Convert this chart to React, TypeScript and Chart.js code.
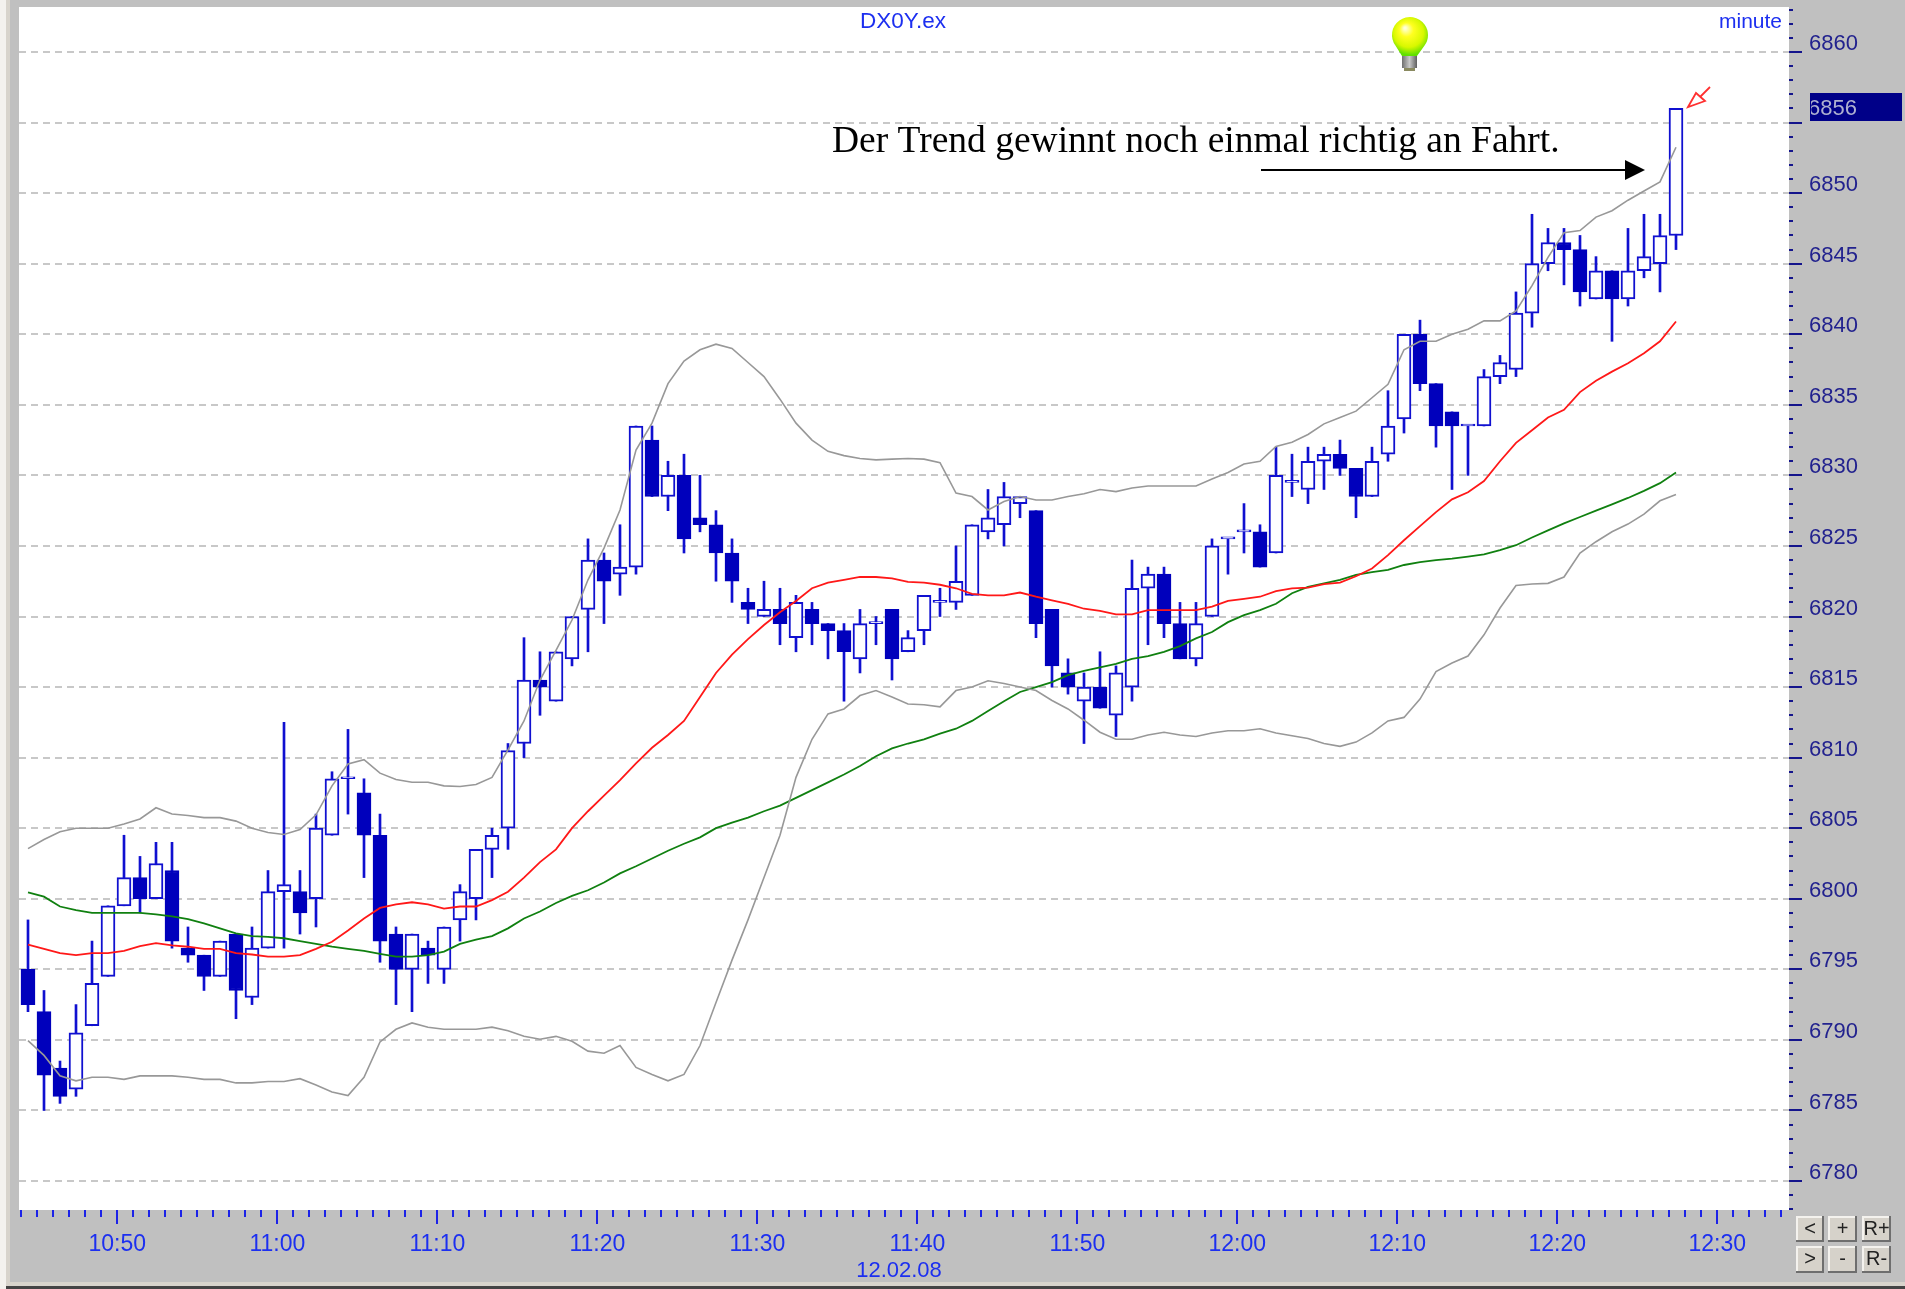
import React, { useEffect, useRef } from "react";
import { Chart, registerables } from "chart.js";

Chart.register(...registerables);

const opens = [6795,6792,6788,6786.5,6791,6794.5,6799.5,6801.5,6800,6802,6796.5,6796,6794.5,6797.5,6793,6796.5,6800.5,6800.5,6800,6804.5,6808.5,6807.5,6804.5,6797.5,6795,6796.5,6795,6798.5,6800,6803.5,6805,6811,6815.5,6814,6817,6820.5,6824,6823,6823.5,6832.5,6828.5,6830,6827,6826.5,6824.5,6821,6820,6820.5,6818.5,6820.5,6819.5,6819,6817,6819.5,6820.5,6817.5,6819,6821,6821,6821.5,6826,6826.5,6828,6827.5,6820.5,6816,6814,6815,6813,6815,6822,6823,6819.5,6817,6820,6825.5,6826,6826,6824.5,6829.5,6829,6831,6831.5,6830.5,6828.5,6831.5,6834,6840,6836.5,6834.5,6833.5,6833.5,6837,6837.5,6841.5,6845,6846.5,6846,6842.5,6844.5,6842.5,6844.5,6845,6847];
const highs = [6798.5,6793.5,6788.5,6792.5,6797,6799.5,6804.5,6803,6804,6804,6798,6796,6797,6797.5,6798,6802,6812.5,6802,6806,6809,6812,6808.5,6806,6798,6797.5,6797,6798,6801,6803.5,6805,6811,6818.5,6817.5,6817.5,6820,6825.5,6824.5,6826.5,6833.5,6833.5,6831,6831.5,6830,6827.5,6825.5,6822,6822.5,6822,6821.5,6821,6819.5,6819.5,6820.5,6820,6820.5,6819,6821.5,6822,6825,6826.5,6829,6829.5,6828.5,6827.5,6820.5,6817,6816,6817.5,6816.5,6824,6823.5,6823.5,6821,6821,6825.5,6825.5,6828,6826.5,6832,6831.5,6832,6832,6832.5,6830.5,6832,6836,6840,6841,6836.5,6834.5,6833.5,6837.5,6838.5,6843,6848.5,6847.5,6847.5,6847,6845.5,6844.5,6847.5,6848.5,6848.5,6856];
const lows = [6792,6785,6785.5,6786,6791,6794.5,6799.5,6799,6800,6796.5,6795.5,6793.5,6794.5,6791.5,6792.5,6796.5,6796.5,6797.5,6798,6804.5,6806,6801.5,6795.5,6792.5,6792,6794,6794,6797,6798.5,6801.5,6803.5,6810,6813,6814,6816.5,6817.5,6819.5,6821.5,6823,6828.5,6827.5,6824.5,6826,6822.5,6821,6819.5,6820,6818,6817.5,6818,6817,6814,6816,6818,6815.5,6817.5,6818,6820,6820.5,6821.5,6825.5,6825,6827,6818.5,6815,6814.5,6811,6813.5,6811.5,6814,6818,6818.5,6817,6816.5,6820,6823,6824.5,6823.5,6824.5,6828.5,6828,6829,6830,6827,6828.5,6831,6833,6836,6832,6829,6830,6833.5,6836.5,6837,6840.5,6844.5,6843.5,6842,6842.5,6839.5,6842,6844,6843,6846];
const closes = [6792.5,6787.5,6786,6790.5,6794,6799.5,6801.5,6800,6802.5,6797,6796,6794.5,6797,6793.5,6796.5,6800.5,6801,6799,6805,6808.5,6808.5,6804.5,6797,6795,6797.5,6796,6798,6800.5,6803.5,6804.5,6810.5,6815.5,6815,6817.5,6820,6824,6822.5,6823.5,6833.5,6828.5,6830,6825.5,6826.5,6824.5,6822.5,6820.5,6820.5,6819.5,6821,6819.5,6819,6817.5,6819.5,6819.5,6817,6818.5,6821.5,6821,6822.5,6826.5,6827,6828.5,6828.5,6819.5,6816.5,6815,6815,6813.5,6816,6822,6823,6819.5,6817,6819.5,6825,6825.5,6826,6823.5,6830,6829.5,6831,6831.5,6830.5,6828.5,6831,6833.5,6840,6836.5,6833.5,6833.5,6833.5,6837,6838,6841.5,6845,6846.5,6846,6843,6844.5,6842.5,6844.5,6845.5,6847,6856];
const upperBand = [6803.55,6804.2,6804.75,6805,6805,6805,6805.3,6805.65,6806.45,6806,6805.9,6805.75,6805.75,6805.5,6805,6804.7,6804.55,6804.9,6805.95,6808,6809.55,6809.85,6808.9,6808.45,6808.25,6808.25,6808,6807.95,6808.1,6808.6,6810.55,6812.6,6815.5,6817.6,6819.75,6822.6,6824.85,6827.55,6831.8,6833.7,6836.5,6838.1,6838.9,6839.3,6839,6838,6837,6835.4,6833.7,6832.5,6831.7,6831.4,6831.2,6831.1,6831.15,6831.2,6831.15,6830.9,6828.75,6828.5,6827.55,6828.15,6828.5,6828.25,6828.25,6828.5,6828.7,6829,6828.85,6829.1,6829.25,6829.25,6829.25,6829.25,6829.75,6830.2,6830.8,6831,6832.05,6832.35,6832.9,6833.65,6834.1,6834.55,6835.5,6836.45,6838.9,6839.5,6839.5,6840,6840.35,6840.95,6840.95,6841.65,6843.45,6845.45,6847.2,6847.35,6848.3,6848.75,6849.5,6850.15,6850.8,6853.25];
const lowerBand = [6789.95,6788.9,6787.45,6787.1,6787.35,6787.35,6787.2,6787.45,6787.45,6787.45,6787.35,6787.2,6787.2,6786.95,6786.95,6787.05,6787.05,6787.25,6786.8,6786.3,6786.05,6787.35,6789.85,6790.75,6791.2,6790.9,6790.75,6790.75,6790.75,6790.9,6790.65,6790.25,6790.05,6790.25,6789.9,6789.2,6789.05,6789.6,6788.05,6787.55,6787.1,6787.55,6789.6,6792.65,6795.65,6798.5,6801.5,6804.5,6808.6,6811.3,6813.1,6813.45,6814.4,6814.75,6814.3,6813.8,6813.75,6813.6,6814.75,6815,6815.45,6815.25,6815,6814.75,6814.05,6813.45,6812.65,6811.8,6811.3,6811.3,6811.6,6811.8,6811.6,6811.5,6811.75,6811.9,6811.9,6812.05,6811.75,6811.55,6811.35,6811,6810.8,6811.1,6811.75,6812.6,6812.85,6814.15,6816.1,6816.7,6817.2,6818.7,6820.6,6822.2,6822.3,6822.35,6822.8,6824.5,6825.3,6826,6826.55,6827.25,6828.2,6828.65];
const redAverage = [6796.75,6796.45,6796.15,6796,6796.15,6796.15,6796.3,6796.65,6796.85,6796.7,6796.6,6796.45,6796.45,6796.15,6796.05,6795.9,6795.9,6796,6796.45,6796.95,6797.75,6798.6,6799.35,6799.6,6799.75,6799.6,6799.3,6799.45,6799.45,6799.9,6800.5,6801.5,6802.6,6803.5,6805,6806.2,6807.3,6808.4,6809.6,6810.7,6811.6,6812.6,6814.3,6816,6817.3,6818.4,6819.4,6820.3,6821.1,6822,6822.4,6822.6,6822.8,6822.8,6822.7,6822.45,6822.4,6822.25,6822,6821.6,6821.5,6821.5,6821.7,6821.4,6821.15,6820.9,6820.55,6820.4,6820.15,6820.15,6820.45,6820.45,6820.45,6820.45,6820.7,6821.1,6821.25,6821.4,6821.8,6822,6822.05,6822.3,6822.4,6822.85,6823.4,6824.35,6825.4,6826.4,6827.4,6828.3,6828.8,6829.6,6831,6832.3,6833.2,6834.1,6834.65,6835.9,6836.7,6837.35,6837.95,6838.65,6839.5,6840.9];
const greenAverage = [6800.45,6800.15,6799.45,6799.2,6799,6799,6799,6799,6798.9,6798.75,6798.55,6798.25,6797.9,6797.55,6797.35,6797.3,6797.2,6797,6796.8,6796.6,6796.45,6796.3,6796.1,6795.9,6795.9,6796,6796.25,6796.8,6797.1,6797.35,6797.9,6798.6,6799.1,6799.7,6800.2,6800.6,6801.15,6801.8,6802.3,6802.85,6803.4,6803.9,6804.35,6805,6805.4,6805.75,6806.2,6806.6,6807.15,6807.7,6808.25,6808.8,6809.4,6810.1,6810.65,6811,6811.3,6811.7,6812.05,6812.6,6813.3,6814,6814.65,6815,6815.35,6815.85,6816.15,6816.4,6816.65,6817,6817.2,6817.5,6817.9,6818.45,6818.9,6819.6,6820.1,6820.45,6820.9,6821.65,6822.1,6822.35,6822.6,6822.95,6823.15,6823.3,6823.65,6823.85,6824,6824.1,6824.25,6824.4,6824.7,6825.05,6825.6,6826.1,6826.6,6827.05,6827.5,6827.95,6828.4,6828.9,6829.45,6830.2];
const hourLabels = ["10:50","11:00","11:10","11:20","11:30","11:40","11:50","12:00","12:10","12:20","12:30"];
const dateLabel = "12.02.08";
const symbolLabel = "DX0Y.ex";
const periodLabel = "minute";
const annotationText = "Der Trend gewinnt noch einmal richtig an Fahrt.";
const lastPrice = 6856;

const FIRST_MAJOR_MINUTE = 650;
const FIRST_CANDLE_MINUTE = 644.41875;
const W = 1905;
const H = 1289;
const PLOT = { left: 19, right: 1789, top: 7, bottom: 1210 };
const PX_PER_UNIT = 14.1125;
const SANS = '"Liberation Sans", Arial, sans-serif';
const SERIF = '"Liberation Serif", "Times New Roman", serif';
const BLUE = "#1c2ff0";
const NAVY = "#22228e";
const CANDLE_FILL = "#0000bc";
const CANDLE_LINE = "#1010d0";

const minutes = opens.map((_, i) => FIRST_CANDLE_MINUTE + i);
const pts = (vals: number[]) => vals.map((y, i) => ({ x: minutes[i], y }));

function button(ctx: CanvasRenderingContext2D, x0: number, y0: number, x1: number, y1: number, t: string) {
  ctx.fillStyle = "#d6d2ca";
  ctx.fillRect(x0, y0, x1 - x0, y1 - y0);
  ctx.fillStyle = "#f4f2ee";
  ctx.fillRect(x0, y0, x1 - x0, 2);
  ctx.fillRect(x0, y0, 2, y1 - y0);
  ctx.fillStyle = "#6e6e6e";
  ctx.fillRect(x0, y1 - 2, x1 - x0, 2);
  ctx.fillRect(x1 - 2, y0, 2, y1 - y0);
  ctx.fillStyle = "#222222";
  ctx.font = `20px ${SANS}`;
  ctx.textAlign = "center";
  ctx.textBaseline = "middle";
  ctx.fillText(t, (x0 + x1) / 2, (y0 + y1) / 2);
}

const chromePlugin = {
  id: "chrome",
  beforeDraw(chart: any) {
    const ctx: CanvasRenderingContext2D = chart.ctx;
    ctx.save();
    ctx.fillStyle = "#c0c0c0";
    ctx.fillRect(0, 0, W, H);
    ctx.fillStyle = "#f4f2ee";
    ctx.fillRect(0, 0, 6, H);
    ctx.fillStyle = "#d8d4cc";
    ctx.fillRect(6, 0, 4, H);
    ctx.fillStyle = "#d8d4cc";
    ctx.fillRect(6, 1282, W - 6, 4);
    ctx.fillStyle = "#444444";
    ctx.fillRect(6, 1286, W - 6, 3);
    const a = chart.chartArea;
    ctx.fillStyle = "#ffffff";
    ctx.fillRect(a.left, a.top, a.right - a.left, a.bottom - a.top);
    ctx.restore();
  },
  afterDraw(chart: any) {
    const ctx: CanvasRenderingContext2D = chart.ctx;
    const a = chart.chartArea;
    const xs = chart.scales.x;
    const ys = chart.scales.y;
    ctx.save();
    // tick marks
    xs.ticks.forEach((t: any) => {
      const major = (t.value - FIRST_MAJOR_MINUTE) % 10 === 0;
      ctx.fillStyle = "#1c22e8";
      ctx.fillRect(Math.round(xs.getPixelForValue(t.value)) - 1, a.bottom, 2, major ? 14 : 7);
    });
    ys.ticks.forEach((t: any) => {
      const major = t.value % 5 === 0;
      ctx.fillStyle = "#14148c";
      ctx.fillRect(a.right, Math.round(ys.getPixelForValue(t.value)) - 1, major ? 13 : 4, 2);
    });
    // last price box
    const py = ys.getPixelForValue(lastPrice);
    ctx.fillStyle = "#000088";
    ctx.fillRect(1810, 93, 92, 28);
    ctx.fillStyle = "#aeb0d0";
    ctx.font = `22px ${SANS}`;
    ctx.textAlign = "left";
    ctx.textBaseline = "middle";
    ctx.save();
    ctx.beginPath();
    ctx.rect(1811, 93, 90, 28);
    ctx.clip();
    ctx.fillText(String(lastPrice), 1808, py);
    ctx.restore();
    // header and footer texts
    ctx.fillStyle = BLUE;
    ctx.font = `22.5px ${SANS}`;
    ctx.textAlign = "center";
    ctx.fillText(symbolLabel, 903, 22);
    ctx.font = `22px ${SANS}`;
    ctx.fillText(dateLabel, 899, 1271);
    ctx.textAlign = "right";
    ctx.font = `21px ${SANS}`;
    ctx.fillText(periodLabel, 1782, 22);
    // annotation
    ctx.fillStyle = "#000000";
    ctx.font = `37.5px ${SERIF}`;
    ctx.textAlign = "left";
    ctx.fillText(annotationText, 832, 142);
    ctx.fillRect(1261, 169, 366, 2);
    ctx.beginPath();
    ctx.moveTo(1645, 170);
    ctx.lineTo(1625, 160);
    ctx.lineTo(1625, 180);
    ctx.closePath();
    ctx.fill();
    // red pointer
    ctx.strokeStyle = "#ff3030";
    ctx.lineWidth = 1.8;
    ctx.fillStyle = "#ffffff";
    ctx.beginPath();
    ctx.moveTo(1688, 107);
    ctx.lineTo(1696, 93);
    ctx.lineTo(1705, 101);
    ctx.closePath();
    ctx.fill();
    ctx.stroke();
    ctx.beginPath();
    ctx.moveTo(1700, 97);
    ctx.lineTo(1710, 87);
    ctx.stroke();
    // bulb
    const g = ctx.createRadialGradient(1405, 28, 1, 1410, 34, 21);
    g.addColorStop(0, "#ffffd8");
    g.addColorStop(0.3, "#ffff20");
    g.addColorStop(0.7, "#d8f800");
    g.addColorStop(1, "#60e000");
    ctx.fillStyle = g;
    ctx.beginPath();
    ctx.arc(1410, 35, 18, Math.PI * 0.8, Math.PI * 0.2);
    ctx.lineTo(1417, 56);
    ctx.lineTo(1402, 56);
    ctx.closePath();
    ctx.fill();
    const base = ctx.createLinearGradient(1402, 0, 1417, 0);
    base.addColorStop(0, "#707070");
    base.addColorStop(0.5, "#c8c8c8");
    base.addColorStop(1, "#606060");
    ctx.fillStyle = base;
    ctx.fillRect(1402, 56, 15, 12);
    ctx.fillStyle = "#8a8a60";
    ctx.fillRect(1404, 68, 11, 3);
    // buttons
    button(ctx, 1796, 1216, 1824, 1242, "<");
    button(ctx, 1828, 1216, 1857, 1242, "+");
    button(ctx, 1862, 1216, 1891, 1242, "R+");
    button(ctx, 1796, 1246, 1824, 1273, ">");
    button(ctx, 1828, 1246, 1857, 1273, "-");
    button(ctx, 1862, 1246, 1891, 1273, "R-");
    ctx.restore();
  },
};

function clearScalePadding(s: any) {
  s.paddingTop = 0;
  s.paddingBottom = 0;
  s.paddingLeft = 0;
  s.paddingRight = 0;
}

export default function App() {
  const ref = useRef<HTMLCanvasElement | null>(null);
  useEffect(() => {
    if (!ref.current) return;
    const lineBase = { type: "line", pointRadius: 0, tension: 0, fill: false, order: 1 };
    const chart = new Chart(ref.current, {
      type: "bar",
      data: {
        datasets: [
          { ...lineBase, label: "upper", data: pts(upperBand), borderColor: "#989898", borderWidth: 1.6 },
          { ...lineBase, label: "lower", data: pts(lowerBand), borderColor: "#989898", borderWidth: 1.6 },
          { ...lineBase, label: "red", data: pts(redAverage), borderColor: "#ff1818", borderWidth: 1.8 },
          { ...lineBase, label: "green", data: pts(greenAverage), borderColor: "#108010", borderWidth: 1.8 },
          {
            label: "body",
            data: opens.map((o, i) => ({ x: minutes[i], y: [o, closes[i]] })),
            backgroundColor: opens.map((o, i) => (closes[i] < o ? CANDLE_FILL : "#ffffff")),
            borderColor: opens.map((o, i) => (closes[i] < o ? CANDLE_FILL : CANDLE_LINE)),
            borderWidth: 2,
            borderSkipped: false,
            barThickness: 14,
            minBarLength: 2,
            grouped: false,
            order: 2,
          },
          {
            label: "wick",
            data: lows.map((l, i) => ({ x: minutes[i], y: [l, highs[i]] })),
            backgroundColor: CANDLE_LINE,
            borderWidth: 0,
            barThickness: 2,
            grouped: false,
            order: 3,
          },
        ],
      } as any,
      options: {
        responsive: false,
        animation: false,
        devicePixelRatio: 1,
        layout: { autoPadding: false, padding: { left: PLOT.left, top: PLOT.top, right: 0, bottom: 0 } },
        plugins: { legend: { display: false }, title: { display: false }, tooltip: { enabled: false } },
        events: [],
        scales: {
          x: {
            type: "linear",
            offset: false,
            min: FIRST_MAJOR_MINUTE - (117.3 - PLOT.left) / 16,
            max: FIRST_MAJOR_MINUTE + (PLOT.right - 117.3) / 16,
            afterBuildTicks(s: any) {
              const out = [];
              for (let m = Math.ceil(s.min); m <= s.max; m++) out.push({ value: m });
              s.ticks = out;
            },
            afterFit(s: any) {
              s.height = H - PLOT.bottom;
              clearScalePadding(s);
            },
            grid: { display: false, drawTicks: false, offset: false },
            border: { display: false },
            ticks: {
              autoSkip: false,
              maxRotation: 0,
              minRotation: 0,
              padding: 21,
              color: BLUE,
              font: { family: SANS, size: 23 },
              callback(v: any) {
                const k = (Number(v) - FIRST_MAJOR_MINUTE) / 10;
                return Number.isInteger(k) && k >= 0 ? hourLabels[k] ?? "" : "";
              },
            },
          },
          y: {
            type: "linear",
            position: "right",
            min: 6780 - (PLOT.bottom - 1181) / PX_PER_UNIT,
            max: 6860 + (52 - PLOT.top) / PX_PER_UNIT,
            afterBuildTicks(s: any) {
              const out = [];
              for (let v = Math.ceil(s.min); v <= s.max; v++) out.push({ value: v });
              s.ticks = out;
            },
            afterFit(s: any) {
              s.width = W - PLOT.right;
              clearScalePadding(s);
            },
            grid: {
              drawTicks: false,
              lineWidth: 2,
              color: (c: any) => (c.tick && c.tick.value % 5 === 0 ? "#c8c8c8" : "rgba(0,0,0,0)"),
            },
            border: { display: false, dash: [7, 5] },
            ticks: {
              autoSkip: false,
              padding: 20,
              labelOffset: -8,
              color: NAVY,
              font: { family: SANS, size: 22 },
              callback: (v: any) => (Number(v) % 5 === 0 && Number(v) !== 6855 ? String(v) : ""),
            },
          },
        },
      } as any,
      plugins: [chromePlugin],
    });
    return () => chart.destroy();
  }, []);
  return (
    <div style={{ position: "absolute", left: 0, top: 0, width: W, height: H }}>
      <canvas ref={ref} width={W} height={H} style={{ display: "block" }} />
    </div>
  );
}
